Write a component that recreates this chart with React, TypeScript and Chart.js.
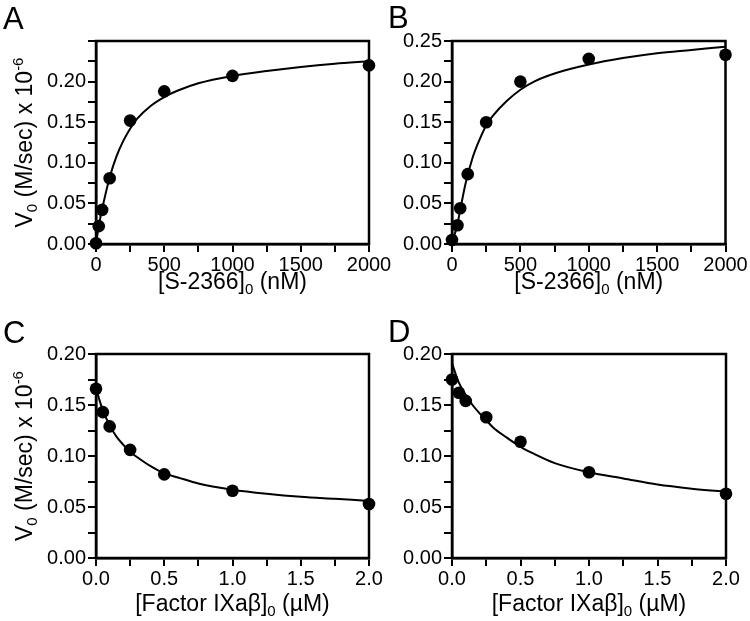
import React, { useEffect, useRef } from "react";
import { Chart, registerables } from "chart.js";

Chart.register(...registerables);

const FONT = "'Liberation Sans', Arial, Helvetica, sans-serif";

// ---------- Data ----------
// Panel A: V0 vs [S-2366]0 (nM)
const aDotX = [0, 20, 45, 100, 250, 500, 1000, 2000];
const aDotY = [0.001, 0.022, 0.042, 0.081, 0.152, 0.188, 0.207, 0.22];
const aFitX = [0, 20, 45, 100, 150, 200, 250, 300, 400, 500, 600, 750, 1000, 1250, 1500, 1750, 2000];
const aFitY = [0, 0.022, 0.043, 0.082, 0.108, 0.127, 0.142, 0.154, 0.17, 0.181, 0.189, 0.198, 0.207, 0.213, 0.218, 0.222, 0.225];

// Panel B: V0 vs [S-2366]0 (nM)
const bDotX = [0, 40, 60, 115, 250, 500, 1000, 2000];
const bDotY = [0.005, 0.023, 0.044, 0.086, 0.15, 0.2, 0.228, 0.233];
const bFitX = [0, 40, 60, 100, 150, 200, 250, 300, 400, 500, 600, 750, 1000, 1250, 1500, 1750, 2000];
const bFitY = [0, 0.025, 0.042, 0.075, 0.106, 0.128, 0.146, 0.158, 0.176, 0.19, 0.2, 0.21, 0.221, 0.229, 0.235, 0.239, 0.243];

// Panel C: V0 vs [Factor IXaβ]0 (µM)
const cDotX = [0, 0.05, 0.1, 0.25, 0.5, 1.0, 2.0];
const cDotY = [0.166, 0.143, 0.129, 0.106, 0.082, 0.066, 0.053];
const cFitX = [0, 0.025, 0.05, 0.1, 0.15, 0.2, 0.25, 0.3, 0.4, 0.5, 0.6, 0.75, 1.0, 1.25, 1.5, 1.75, 2.0];
const cFitY = [0.168, 0.155, 0.145, 0.13, 0.119, 0.111, 0.104, 0.099, 0.09, 0.083, 0.079, 0.073, 0.067, 0.063, 0.06, 0.058, 0.056];

// Panel D: V0 vs [Factor IXaβ]0 (µM)
const dDotX = [0, 0.05, 0.1, 0.25, 0.5, 1.0, 2.0];
const dDotY = [0.175, 0.162, 0.154, 0.138, 0.114, 0.084, 0.063];
const dFitX = [0, 0.025, 0.05, 0.1, 0.15, 0.2, 0.25, 0.3, 0.4, 0.5, 0.6, 0.75, 1.0, 1.25, 1.5, 1.75, 2.0];
const dFitY = [0.191, 0.181, 0.172, 0.16, 0.15, 0.142, 0.135, 0.128, 0.118, 0.109, 0.102, 0.093, 0.084, 0.078, 0.072, 0.068, 0.065];

// Axis texts
const yTitlePieces = [
  { text: "V", kind: "main" },
  { text: "0", kind: "sub" },
  { text: " (M/sec) x 10", kind: "main" },
  { text: "-6", kind: "sup" },
];
const xTitleSubstrate = [
  { text: "[S-2366]", kind: "main" },
  { text: "0", kind: "sub" },
  { text: " (nM)", kind: "main" },
];
const xTitleFactor = [
  { text: "[Factor IXaβ]", kind: "main" },
  { text: "0", kind: "sub" },
  { text: " (µM)", kind: "main" },
];

const W = 750;
const H = 621;

type Piece = { text: string; kind: string };

function pieceFont(kind: string) {
  return kind === "main" ? `23px ${FONT}` : `15px ${FONT}`;
}
function pieceDy(kind: string) {
  return kind === "sub" ? 5 : kind === "sup" ? -9 : 0;
}

function drawRich(ctx: CanvasRenderingContext2D, pieces: Piece[], cx: number, baseline: number) {
  let total = 0;
  for (const p of pieces) {
    ctx.font = pieceFont(p.kind);
    total += ctx.measureText(p.text).width;
  }
  let x = cx - total / 2;
  ctx.textAlign = "left";
  ctx.textBaseline = "alphabetic";
  for (const p of pieces) {
    ctx.font = pieceFont(p.kind);
    ctx.fillText(p.text, x, baseline + pieceDy(p.kind));
    x += ctx.measureText(p.text).width;
  }
}

type PanelSpec = {
  letter: string;
  letterX: number;
  letterY: number;
  area: { left: number; top: number; right: number; bottom: number };
  dotX: number[];
  dotY: number[];
  fitX: number[];
  fitY: number[];
  xMax: number;
  xStep: number;
  xMajor: number;
  xDec: number;
  yMax: number;
  hideTopLabel: boolean;
  showYTitle: boolean;
  xTitle: Piece[];
  xTitleBaseline: number;
};

const panels: PanelSpec[] = [
  {
    letter: "A", letterX: 3, letterY: 29,
    area: { left: 96, top: 41, right: 369, bottom: 244 },
    dotX: aDotX, dotY: aDotY, fitX: aFitX, fitY: aFitY,
    xMax: 2000, xStep: 250, xMajor: 500, xDec: 0,
    yMax: 0.25, hideTopLabel: true, showYTitle: true,
    xTitle: xTitleSubstrate, xTitleBaseline: 289,
  },
  {
    letter: "B", letterX: 388, letterY: 28,
    area: { left: 452, top: 41, right: 725.5, bottom: 244 },
    dotX: bDotX, dotY: bDotY, fitX: bFitX, fitY: bFitY,
    xMax: 2000, xStep: 250, xMajor: 500, xDec: 0,
    yMax: 0.25, hideTopLabel: false, showYTitle: false,
    xTitle: xTitleSubstrate, xTitleBaseline: 289,
  },
  {
    letter: "C", letterX: 3, letterY: 343,
    area: { left: 96, top: 354, right: 369, bottom: 558 },
    dotX: cDotX, dotY: cDotY, fitX: cFitX, fitY: cFitY,
    xMax: 2, xStep: 0.25, xMajor: 0.5, xDec: 1,
    yMax: 0.2, hideTopLabel: false, showYTitle: true,
    xTitle: xTitleFactor, xTitleBaseline: 611,
  },
  {
    letter: "D", letterX: 388, letterY: 342,
    area: { left: 452, top: 354, right: 726, bottom: 558 },
    dotX: dDotX, dotY: dDotY, fitX: dFitX, fitY: dFitY,
    xMax: 2, xStep: 0.25, xMajor: 0.5, xDec: 1,
    yMax: 0.2, hideTopLabel: false, showYTitle: false,
    xTitle: xTitleFactor, xTitleBaseline: 611,
  },
];

const Y_AXIS_W = 60;
const X_AXIS_H = 30;

function isMultiple(v: number, step: number) {
  const k = Math.round(v / step);
  return Math.abs(v - k * step) < 1e-9;
}

function makeChart(canvas: HTMLCanvasElement, p: PanelSpec) {
  const dots = p.dotX.map((x, i) => ({ x, y: p.dotY[i] }));
  const fit = p.fitX.map((x, i) => ({ x, y: p.fitY[i] }));
  const frame = {
    id: "frame" + p.letter,
    beforeDatasetsDraw(chart: any) {
      const { ctx, chartArea: a } = chart;
      ctx.save();
      ctx.strokeStyle = "#000";
      ctx.lineWidth = 2.5;
      ctx.strokeRect(a.left, a.top, a.right - a.left, a.bottom - a.top);
      ctx.restore();
    },
    afterDraw(chart: any) {
      const { ctx, chartArea: a } = chart;
      ctx.save();
      ctx.fillStyle = "#000";
      ctx.font = `31px ${FONT}`;
      ctx.textAlign = "left";
      ctx.textBaseline = "alphabetic";
      ctx.fillText(p.letter, p.letterX, p.letterY);
      drawRich(ctx, p.xTitle, (a.left + a.right) / 2, p.xTitleBaseline);
      if (p.showYTitle) {
        ctx.save();
        ctx.translate(32, (a.top + a.bottom) / 2);
        ctx.rotate(-Math.PI / 2);
        drawRich(ctx, yTitlePieces, 0, 0);
        ctx.restore();
      }
      ctx.restore();
    },
  };

  return new Chart(canvas, {
    type: "scatter",
    data: {
      datasets: [
        {
          data: dots,
          pointRadius: 6.3,
          pointHoverRadius: 6.3,
          backgroundColor: "#000",
          borderColor: "#000",
          borderWidth: 0,
          showLine: false,
          clip: false,
          order: 0,
        } as any,
        {
          data: fit,
          showLine: true,
          pointRadius: 0,
          borderColor: "#000",
          borderWidth: 2,
          cubicInterpolationMode: "monotone",
          fill: false,
          clip: false,
          order: 1,
        } as any,
      ],
    },
    options: {
      responsive: false,
      animation: false,
      events: [],
      layout: {
        padding: {
          left: p.area.left - Y_AXIS_W,
          right: W - p.area.right,
          top: p.area.top,
          bottom: H - p.area.bottom - X_AXIS_H,
        },
      },
      plugins: {
        legend: { display: false },
        tooltip: { enabled: false },
        title: { display: false },
      },
      scales: {
        x: {
          type: "linear",
          min: 0,
          max: p.xMax,
          grid: {
            drawOnChartArea: false,
            drawTicks: true,
            tickLength: 8,
            color: "#000",
            lineWidth: 2,
          },
          border: { display: true, color: "#000", width: 2.5 },
          ticks: {
            stepSize: p.xStep,
            autoSkip: false,
            maxRotation: 0,
            minRotation: 0,
            padding: 1,
            color: "#000",
            font: { family: FONT, size: 20 },
            callback: (v: any) => (isMultiple(Number(v), p.xMajor) ? Number(v).toFixed(p.xDec) : ""),
          },
          afterFit: (s: any) => {
            s.height = X_AXIS_H;
            s.paddingLeft = 0;
            s.paddingRight = 0;
          },
        },
        y: {
          type: "linear",
          min: 0,
          max: p.yMax,
          grid: {
            drawOnChartArea: false,
            drawTicks: true,
            tickLength: 8,
            color: "#000",
            lineWidth: 2,
          },
          border: { display: true, color: "#000", width: 2.5 },
          ticks: {
            stepSize: 0.025,
            autoSkip: false,
            padding: 2,
            color: "#000",
            font: { family: FONT, size: 20 },
            callback: (v: any) => {
              const n = Number(v);
              if (!isMultiple(n, 0.05)) return "";
              if (p.hideTopLabel && n > p.yMax - 1e-9) return "";
              return n.toFixed(2);
            },
          },
          afterFit: (s: any) => {
            s.width = Y_AXIS_W;
            s.paddingTop = 0;
            s.paddingBottom = 0;
          },
        },
      },
    } as any,
    plugins: [frame],
  });
}

export default function App() {
  const refs = [useRef<HTMLCanvasElement>(null), useRef<HTMLCanvasElement>(null), useRef<HTMLCanvasElement>(null), useRef<HTMLCanvasElement>(null)];

  useEffect(() => {
    const charts = panels.map((p, i) => makeChart(refs[i].current as HTMLCanvasElement, p));
    return () => charts.forEach((c) => c.destroy());
  }, []);

  return (
    <div style={{ position: "absolute", left: 0, top: 0, width: W, height: H, background: "#fff", overflow: "hidden" }}>
      {panels.map((p, i) => (
        <canvas
          key={p.letter}
          ref={refs[i]}
          width={W}
          height={H}
          style={{ position: "absolute", left: 0, top: 0, width: W, height: H }}
        />
      ))}
    </div>
  );
}
